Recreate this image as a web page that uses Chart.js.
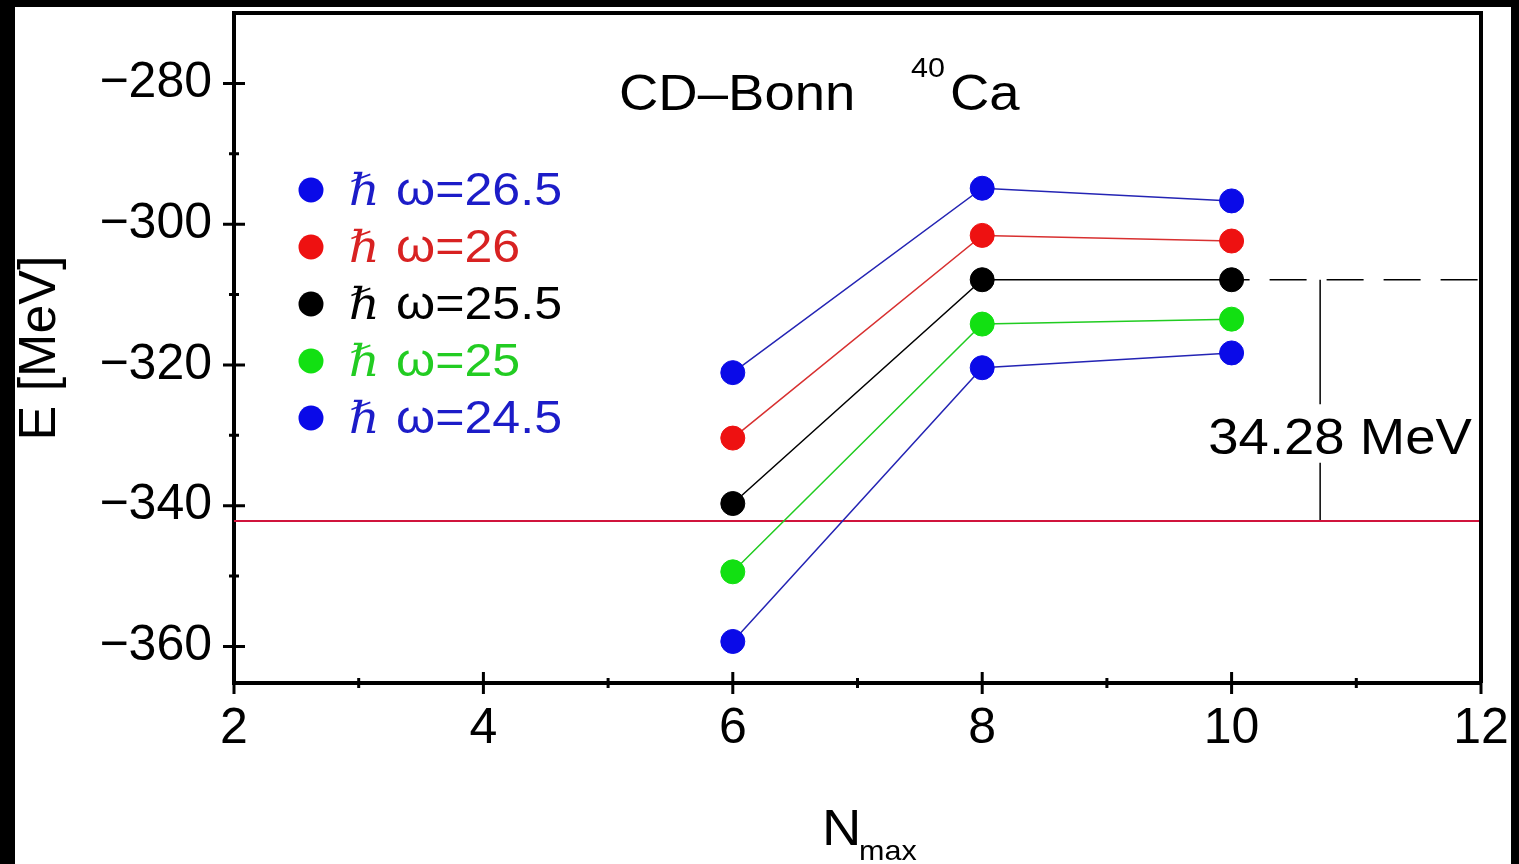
<!DOCTYPE html>
<html>
<head>
<meta charset="utf-8">
<script src="https://cdn.jsdelivr.net/npm/chart.js@4"></script>
<style>
  body { margin: 0; background: #000; }
  canvas { display: block; }
</style>
</head>
<body>
<canvas id="chart" width="1519" height="864"></canvas>
<script>
// N_max values and ground state energies (MeV) per hbar*omega
var nmax = [6, 8, 10];
var e265 = [-321.1, -294.9, -296.7];
var e26 = [-330.4, -301.6, -302.4];
var e255 = [-339.7, -307.9, -307.9];
var e25 = [-349.4, -314.2, -313.5];
var e245 = [-359.3, -320.4, -318.3];
var hw = ['26.5', '26', '25.5', '25', '24.5'];

// reference lines: experimental value and the 34.28 MeV gap marker
var expX = [2, 12];
var expE = [-342.18, -342.18];
var dashX = [10, 12];
var dashE = [-307.9, -307.9];
var gapX = [10.71, 10.71];
var gapTopE = [-307.9, -325.6];
var gapBotE = [-333.9, -342.18];
var gapLabel = '34.28 MeV';
var gapLabelAt = [10.87, -330.1];

var xTicks = [2, 4, 6, 8, 10, 12];
var xMinor = [3, 5, 7, 9, 11];
var yTicks = [-360, -340, -320, -300, -280];
var yMinor = [-350, -330, -310, -290];

var FONT = '"Liberation Sans", Arial, sans-serif';
var SX = 1.09; // reference text is a little wide
var dotColors = ['#0a0ae8', '#ee1111', '#000000', '#12e012', '#0a0ae8'];
var lineColors = ['#2424b4', '#d83030', '#000000', '#20cc20', '#2424b4'];
var textColors = ['#1c1cc8', '#d82222', '#000000', '#22cc22', '#1c1cc8'];

function pts(xs, ys) {
  return xs.map(function (x, i) { return { x: x, y: ys[i] }; });
}

function wideText(c, t, x, y, align) {
  c.save();
  c.translate(x, y);
  c.scale(SX, 1);
  c.textAlign = align || 'left';
  c.fillText(t, 0, 0);
  c.restore();
}

var series = [e265, e26, e255, e25, e245];
var datasets = series.map(function (s, i) {
  return {
    label: hw[i],
    data: pts(nmax, s),
    borderColor: lineColors[i],
    backgroundColor: dotColors[i],
    pointBackgroundColor: dotColors[i],
    pointBorderColor: dotColors[i],
    borderWidth: 1.5,
    pointRadius: 12,
    pointBorderWidth: 1
  };
});
datasets.push({ label: 'exp', data: pts(expX, expE), borderColor: '#d0143c', borderWidth: 2, pointRadius: 0 });
datasets.push({ label: 'dash', data: pts(dashX, dashE), borderColor: '#000', borderWidth: 1.5, pointRadius: 0, borderDash: [37, 20], borderDashOffset: 19 });
datasets.push({ label: 'gap1', data: pts(gapX, gapTopE), borderColor: '#000', borderWidth: 1.5, pointRadius: 0 });
datasets.push({ label: 'gap2', data: pts(gapX, gapBotE), borderColor: '#000', borderWidth: 1.5, pointRadius: 0 });

var decor = {
  id: 'decor',
  beforeDraw: function (chart) {
    var c = chart.ctx;
    c.save();
    c.fillStyle = '#000';
    c.fillRect(0, 0, chart.width, chart.height);
    c.fillStyle = '#fff';
    c.fillRect(15, 7, 1496, 857);
    c.restore();
  },
  afterDraw: function (chart) {
    var c = chart.ctx, a = chart.chartArea;
    var xs = chart.scales.x, ys = chart.scales.y;
    c.save();
    // frame top and right
    c.strokeStyle = '#000';
    c.lineWidth = 4;
    c.beginPath();
    c.moveTo(a.left, a.top); c.lineTo(a.right, a.top); c.lineTo(a.right, a.bottom);
    c.stroke();
    // tick marks
    c.lineWidth = 3;
    c.beginPath();
    xTicks.forEach(function (v) { var p = xs.getPixelForValue(v); c.moveTo(p, a.bottom - 11); c.lineTo(p, a.bottom + 11); });
    xMinor.forEach(function (v) { var p = xs.getPixelForValue(v); c.moveTo(p, a.bottom - 5); c.lineTo(p, a.bottom + 5); });
    yTicks.forEach(function (v) { var p = ys.getPixelForValue(v); c.moveTo(a.left - 11, p); c.lineTo(a.left + 11, p); });
    yMinor.forEach(function (v) { var p = ys.getPixelForValue(v); c.moveTo(a.left - 5, p); c.lineTo(a.left + 5, p); });
    c.stroke();

    // title
    c.fillStyle = '#000';
    c.textBaseline = 'alphabetic';
    c.font = '50px ' + FONT;
    wideText(c, 'CD\u2013Bonn', 619, 110);
    wideText(c, 'Ca', 950, 110);
    c.font = '28px ' + FONT;
    wideText(c, '40', 911, 77);

    // gap label
    c.font = '50px ' + FONT;
    wideText(c, gapLabel, xs.getPixelForValue(gapLabelAt[0]), ys.getPixelForValue(gapLabelAt[1]) + 18, 'center');

    // x axis title with subscript
    wideText(c, 'N', 822, 845);
    c.font = '28px ' + FONT;
    wideText(c, 'max', 859, 860);

    // legend
    for (var i = 0; i < hw.length; i++) {
      var cy = 190 + i * 57;
      c.fillStyle = dotColors[i];
      c.beginPath();
      c.arc(311, cy, 12.5, 0, Math.PI * 2);
      c.fill();
      c.fillStyle = textColors[i];
      c.font = 'italic 44px "DejaVu Serif", serif';
      wideText(c, '\u210F', 349, cy + 15);
      c.font = '46px ' + FONT;
      wideText(c, '\u03C9=' + hw[i], 396, cy + 15);
    }
    c.restore();
  }
};

new Chart(document.getElementById('chart'), {
  type: 'line',
  data: { datasets: datasets },
  plugins: [decor],
  options: {
    responsive: false,
    animation: false,
    devicePixelRatio: 1,
    layout: { padding: { top: 12, right: 38, left: 0, bottom: 0 } },
    plugins: { legend: { display: false }, tooltip: { enabled: false } },
    scales: {
      x: {
        type: 'linear', min: 2, max: 12,
        ticks: { stepSize: 2, padding: 16, color: '#000', font: { size: 50, family: FONT } },
        grid: { display: false, drawTicks: false },
        border: { display: true, color: '#000', width: 4 },
        afterFit: function (s) { s.height = 181; s.paddingLeft = 0; s.paddingRight = 0; }
      },
      y: {
        min: -365.2, max: -270,
        ticks: {
          stepSize: 20, includeBounds: false, padding: 22, color: '#000',
          font: { size: 50, family: FONT },
          callback: function (v) { return String(v).replace('-', '\u2212'); }
        },
        grid: { display: false, drawTicks: false },
        border: { display: true, color: '#000', width: 4 },
        title: { display: true, text: 'E [MeV]', color: '#000', font: { size: 52, family: FONT }, padding: { top: 9, bottom: 0 } },
        afterFit: function (s) { s.width = 234; s.paddingTop = 0; s.paddingBottom = 0; }
      }
    }
  }
});
</script>
</body>
</html>
